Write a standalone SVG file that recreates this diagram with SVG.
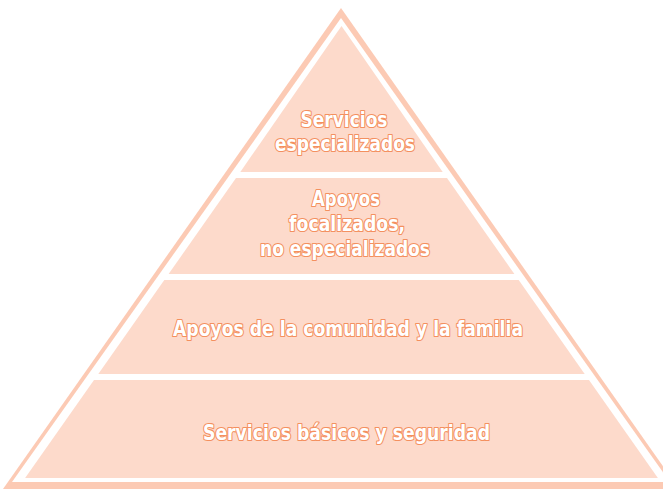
<svg xmlns="http://www.w3.org/2000/svg" width="663" height="489" viewBox="0 0 663 489">
<style>
.band{fill:#fddacb}
.lbl{font-family:'DejaVu Sans Condensed','DejaVu Sans',sans-serif;font-stretch:condensed;font-weight:bold;font-size:21px;fill:#ffffff;stroke:#f4905f;stroke-width:2.2px;paint-order:stroke;text-anchor:middle;stroke-linejoin:round}
</style>
<rect width="663" height="489" fill="#ffffff"/>
<g id="frame">
<polygon points="341,8 3,489 679,489" fill="#fccab4"/>
<polygon points="341,18 12,482 670,482" fill="#ffffff"/>
</g>
<g id="level1">
<polygon class="band" points="341.5,26 442.7,172 240.3,172"/>
<text class="lbl" x="344" y="127" textLength="87" lengthAdjust="spacingAndGlyphs">Servicios</text>
<text class="lbl" x="345" y="151" textLength="140" lengthAdjust="spacingAndGlyphs">especializados</text>
</g>
<g id="level2">
<polygon class="band" points="236,178 447,178 514.4,274 168.6,274"/>
<text class="lbl" x="346" y="206" textLength="68" lengthAdjust="spacingAndGlyphs">Apoyos</text>
<text class="lbl" x="347" y="231" textLength="116" lengthAdjust="spacingAndGlyphs">focalizados,</text>
<text class="lbl" x="345" y="256" textLength="170" lengthAdjust="spacingAndGlyphs">no especializados</text>
</g>
<g id="level3">
<polygon class="band" points="164.3,280 518.7,280 584.7,374 98.3,374"/>
<text class="lbl" x="348" y="336" textLength="350" lengthAdjust="spacingAndGlyphs">Apoyos de la comunidad y la familia</text>
</g>
<g id="level4">
<polygon class="band" points="94,380 589,380 657.9,478 25.1,478"/>
<text class="lbl" x="346.5" y="440" textLength="287" lengthAdjust="spacingAndGlyphs">Servicios básicos y seguridad</text>
</g>
<g id="connectors"></g>
</svg>
